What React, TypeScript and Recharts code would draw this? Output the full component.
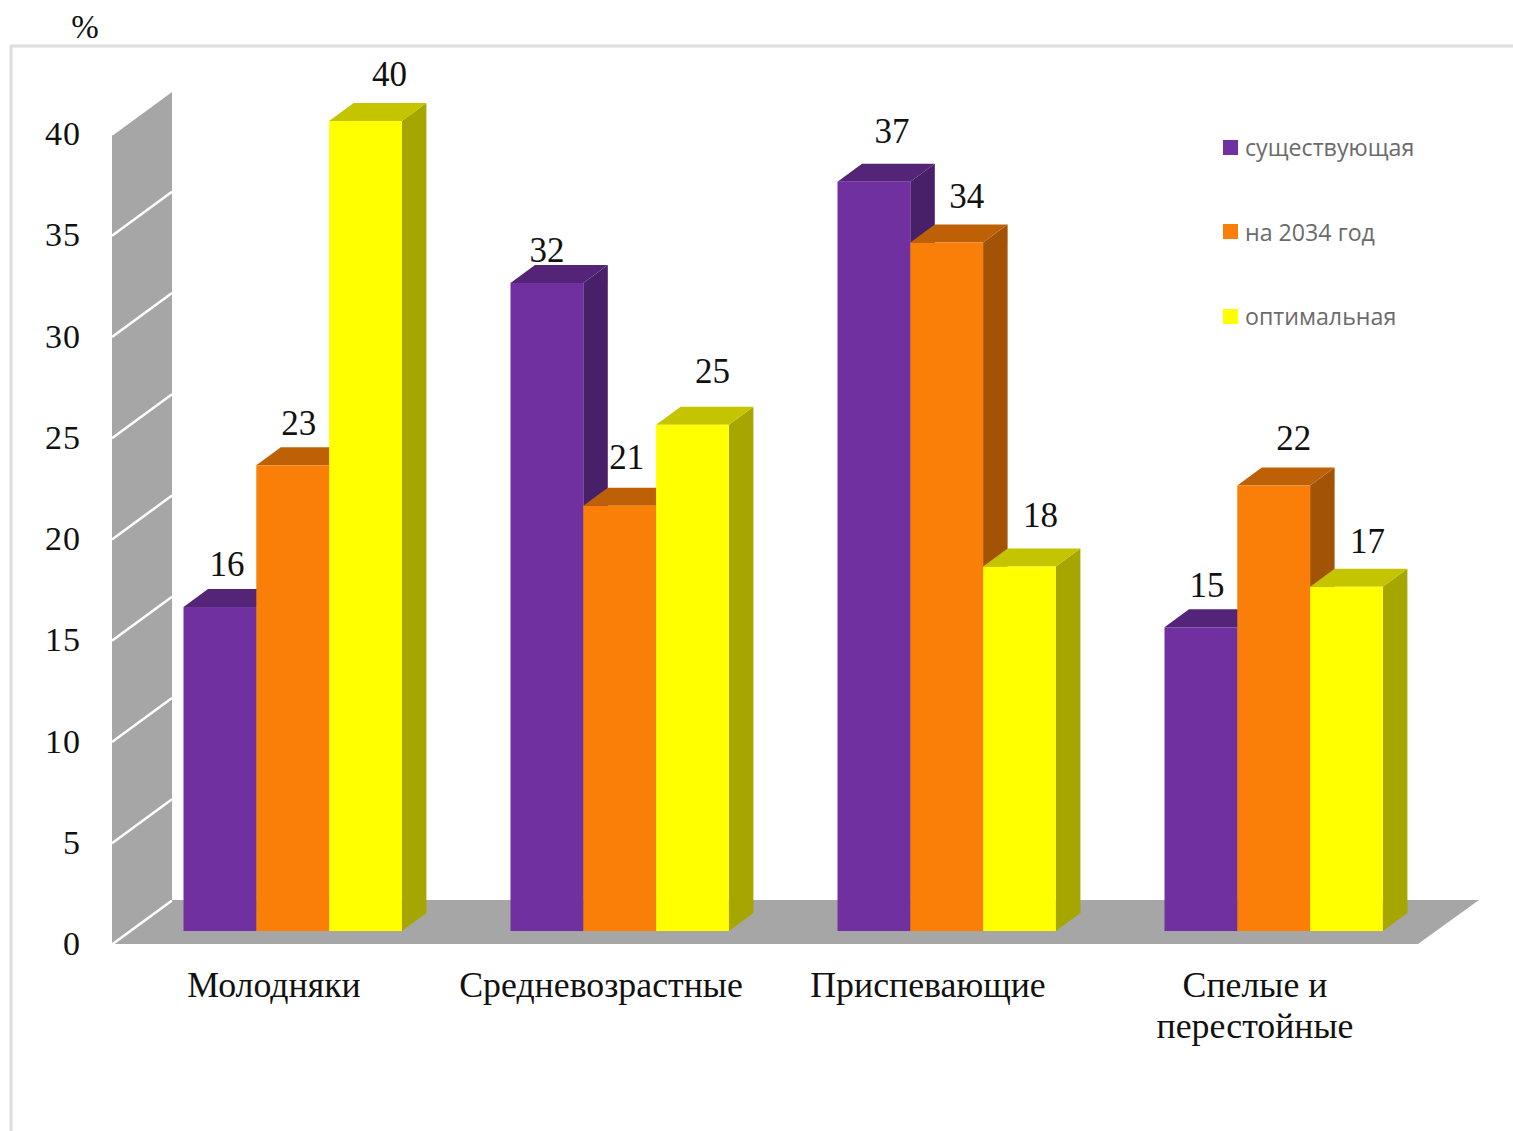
import { Bar, BarChart, LabelList, Legend, XAxis, YAxis } from "recharts";

const categories = ["Молодняки", "Средневозрастные", "Приспевающие", "Спелые и\nперестойные"];
const existing = [16, 32, 37, 15];
const by2034 = [23, 21, 34, 22];
const optimal = [40, 25, 18, 17];
const yTicks = [0, 5, 10, 15, 20, 25, 30, 35, 40];

const data = categories.map((name, i) => ({
  name,
  existing: existing[i],
  by2034: by2034[i],
  optimal: optimal[i],
}));

// Where each value label sits relative to the top centre of its bar: [right, up]
const existingLabelShift = [[7, 43], [0, 33], [18, 50], [6, 42]];
const by2034LabelShift = [[6, 42], [7, 48], [20, 46], [20, 47]];
const optimalLabelShift = [[24, 47], [20, 53], [21, 51], [21, 45]];

const DEPTH_X = 24.5;
const DEPTH_Y = 18;
const WALL_LEFT = 112;
const WALL_RIGHT = 172;
const FLOOR_FRONT = 944;
const FLOOR_BACK = 900;
const FLOOR_FRONT_RIGHT = 1418;
const FLOOR_BACK_RIGHT = 1479;
// The wall's scale sits this far below the bars, which stand in front of it
const WALL_DROP = 13.5;
const WALL_GRAY = "#a6a6a6";
const SERIF = "'Liberation Serif', serif";

// Box with a lit top and a shaded side, the front face comes from the bar rectangle
const boxShape = (front: string, top: string, side: string) => (props: any) => {
  const { x, y, width, height } = props;
  const r = x + width;
  const b = y + height;
  return (
    <g>
      <polygon points={`${r},${y} ${r + DEPTH_X},${y - DEPTH_Y} ${r + DEPTH_X},${b - DEPTH_Y} ${r},${b}`} fill={side} />
      <polygon points={`${x},${y} ${x + DEPTH_X},${y - DEPTH_Y} ${r + DEPTH_X},${y - DEPTH_Y} ${r},${y}`} fill={top} />
      <rect x={x} y={y} width={width} height={height} fill={front} />
    </g>
  );
};

const valueLabel = (shifts: number[][]) => (props: any) => {
  const { x, y, width, value, index } = props;
  const [right, up] = shifts[index];
  return (
    <text x={x + width / 2 + right} y={y - up} textAnchor="middle" dominantBaseline="central"
      fontFamily={SERIF} fontSize={35} fill="#111">
      {value}
    </text>
  );
};

// Axis tick: number on the left, white rule running back across the side wall
const WallTick = (props: any) => {
  const { y, payload } = props;
  const wallY = y + WALL_DROP;
  return (
    <g>
      <line x1={WALL_LEFT} y1={wallY} x2={WALL_RIGHT} y2={wallY - (FLOOR_FRONT - FLOOR_BACK)} stroke="#fff" strokeWidth={2.5} />
      <text x={81} y={wallY - 1} textAnchor="end" dominantBaseline="central" fontFamily={SERIF} fontSize={34}
        letterSpacing={1} fill="#111">
        {payload.value}
      </text>
    </g>
  );
};

const CategoryTick = (props: any) => {
  const { x, payload } = props;
  return (
    <text textAnchor="middle" fontFamily={SERIF} fontSize={35.8} fill="#111">
      {String(payload.value).split("\n").map((line, i) => (
        <tspan key={line} x={x - 19} y={997 + i * 41}>{line}</tspan>
      ))}
    </text>
  );
};

const LegendBox = ({ payload }: any) => (
  <div>
    {(payload || []).map((item: any) => (
      <div key={item.value} style={{ display: "flex", alignItems: "center", height: 84.5 }}>
        <span style={{ width: 15, height: 15, background: item.color, marginRight: 7 }} />
        <span style={{ fontFamily: "'Open Sans', sans-serif", fontSize: 23.2, color: "#6b6b6b", whiteSpace: "nowrap" }}>
          {item.value}
        </span>
      </div>
    ))}
  </div>
);

export default function App() {
  return (
    <div style={{ position: "absolute", left: 0, top: 0, width: 1513, height: 1131, background: "#fff" }}>
      <BarChart
        width={1513}
        height={1131}
        data={data}
        barSize={72.8}
        barGap={0}
        barCategoryGap={54}
        margin={{ top: 121, right: 75.5, bottom: 0, left: 0 }}
      >
        {/* outer frame and unit caption */}
        <line x1={10} y1={46} x2={1513} y2={46} stroke="#dedede" strokeWidth={3} />
        <line x1={11} y1={46} x2={11} y2={1131} stroke="#dedede" strokeWidth={3} />
        <text x={85} y={27} textAnchor="middle" dominantBaseline="central" fontFamily={SERIF} fontSize={33} fill="#111">%</text>

        {/* side wall and floor */}
        <polygon
          points={`${WALL_LEFT},135 ${WALL_RIGHT},91 ${WALL_RIGHT},${FLOOR_BACK} ${WALL_LEFT},${FLOOR_FRONT}`}
          fill={WALL_GRAY}
        />
        <polygon
          points={`${WALL_LEFT},${FLOOR_FRONT} ${WALL_RIGHT},${FLOOR_BACK} ${FLOOR_BACK_RIGHT},${FLOOR_BACK} ${FLOOR_FRONT_RIGHT},${FLOOR_FRONT}`}
          fill={WALL_GRAY}
        />

        <XAxis dataKey="name" height={187} axisLine={false} tickLine={false} interval={0} tick={<CategoryTick />} />
        {/* domain starts below zero so the bars stand on the floor, in front of the wall's zero line */}
        <YAxis
          width={129.5}
          domain={[-0.64, 40]}
          ticks={yTicks}
          interval={0}
          axisLine={false}
          tickLine={false}
          tick={<WallTick />}
        />

        <Legend
          layout="vertical"
          align="center"
          verticalAlign="middle"
          itemSorter={null}
          content={<LegendBox />}
          wrapperStyle={{ position: "absolute", left: 1223, top: 105, width: 260, right: "auto", bottom: "auto" }}
        />

        <Bar dataKey="existing" name="существующая" fill="#7030a0" isAnimationActive={false}
          shape={boxShape("#7030a0", "#532478", "#481f69")}>
          <LabelList dataKey="existing" content={valueLabel(existingLabelShift)} />
        </Bar>
        <Bar dataKey="by2034" name="на 2034 год" fill="#fa7f08" isAnimationActive={false}
          shape={boxShape("#fa7f08", "#bd6006", "#a35305")}>
          <LabelList dataKey="by2034" content={valueLabel(by2034LabelShift)} />
        </Bar>
        <Bar dataKey="optimal" name="оптимальная" fill="#ffff00" isAnimationActive={false}
          shape={boxShape("#ffff00", "#c4c400", "#a6a600")}>
          <LabelList dataKey="optimal" content={valueLabel(optimalLabelShift)} />
        </Bar>
      </BarChart>
    </div>
  );
}
